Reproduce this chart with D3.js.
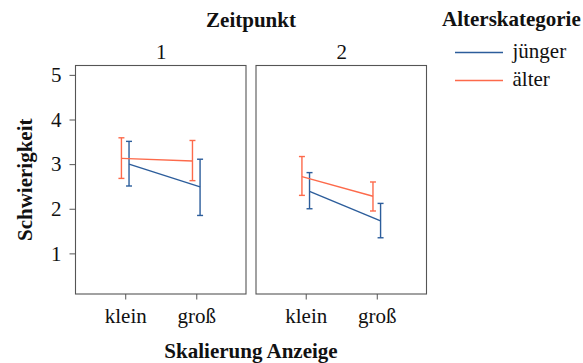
<!DOCTYPE html>
<html>
<head>
<meta charset="utf-8">
<script src="https://cdn.jsdelivr.net/npm/d3@7"></script>
<style>
  html, body { margin: 0; padding: 0; background: #fff; }
  svg { display: block; }
  svg text { font-family: "Liberation Serif", "Times New Roman", serif !important; }
</style>
</head>
<body>
<svg id="chart" width="583" height="363"></svg>
<script>
// Facets (Zeitpunkt), x categories (Skalierung Anzeige), groups (Alterskategorie)
const zeitpunkte = ["1", "2"];
const skalierung = ["klein", "groß"];
const gruppen = ["jünger", "älter"];
const yTicks = [1, 2, 3, 4, 5];

// Mean difficulty per group, indexed [zeitpunkt][skalierung]
const juengerMean  = [[3.00, 2.49], [2.39, 1.73]];
const juengerLower = [[2.51, 1.85], [2.00, 1.35]];
const juengerUpper = [[3.51, 3.11], [2.81, 2.12]];

const aelterMean  = [[3.13, 3.07], [2.72, 2.28]];
const aelterLower = [[2.68, 2.63], [2.30, 1.95]];
const aelterUpper = [[3.59, 3.53], [3.17, 2.60]];

const colors = { "jünger": "#2c5d9b", "älter": "#fd6a4b" };
const dodge = { "jünger": 3.8, "älter": -3.8 };

const series = [
  { name: "jünger", mean: juengerMean, lo: juengerLower, hi: juengerUpper },
  { name: "älter",  mean: aelterMean,  lo: aelterLower,  hi: aelterUpper }
];

const svg = d3.select("#chart");

const panelTop = 65.5, panelBottom = 294;
const panelLefts = [75.5, 256];
const panelW = 170.5;
const centerX = (panelLefts[0] + panelLefts[1] + panelW) / 2;

const y = d3.scaleLinear().domain([0.09, 5.21]).range([panelBottom, panelTop]);
const x = d3.scalePoint().domain(skalierung).range([0, panelW]).padding(0.7);

zeitpunkte.forEach((zp, fi) => {
  const g = svg.append("g").attr("transform", `translate(${panelLefts[fi]},0)`);

  // panel frame
  g.append("rect")
    .attr("x", 0).attr("y", panelTop)
    .attr("width", panelW).attr("height", panelBottom - panelTop)
    .attr("fill", "none").attr("stroke", "#555").attr("stroke-width", 1.1);

  // strip label
  g.append("text")
    .attr("x", panelW / 2 + 0.5).attr("y", 58.5)
    .attr("text-anchor", "middle")
    .style("font-size", "21px").attr("fill", "#111")
    .text(zp);

  // x axis
  const xa = g.append("g").attr("transform", `translate(0,${panelBottom})`)
    .call(d3.axisBottom(x).tickSize(5.5).tickPadding(8.5));
  xa.select(".domain").remove();
  xa.selectAll("line").attr("stroke", "#555");
  xa.selectAll("text").style("font-size", "21px").attr("fill", "#111");

  // y axis on first panel only
  if (fi === 0) {
    const ya = g.append("g")
      .call(d3.axisLeft(y).tickValues(yTicks).tickFormat(d3.format("d")).tickSize(6).tickPadding(8));
    ya.select(".domain").remove();
    ya.selectAll("line").attr("stroke", "#555");
    ya.selectAll("text").style("font-size", "21px").attr("fill", "#111");
  }

  series.forEach(s => {
    const col = colors[s.name];
    const pts = skalierung.map((k, ki) => ({
      x: x(k) + dodge[s.name],
      m: s.mean[fi][ki], lo: s.lo[fi][ki], hi: s.hi[fi][ki]
    }));

    // connecting line of means
    g.append("path")
      .datum(pts)
      .attr("fill", "none").attr("stroke", col).attr("stroke-width", 1.4)
      .attr("d", d3.line().x(d => d.x).y(d => y(d.m)));

    // error bars
    const eb = g.selectAll(null).data(pts).enter().append("g")
      .attr("stroke", col).attr("stroke-width", 1.4);
    eb.append("line")
      .attr("x1", d => d.x).attr("x2", d => d.x)
      .attr("y1", d => y(d.lo)).attr("y2", d => y(d.hi));
    eb.append("line")
      .attr("x1", d => d.x - 3).attr("x2", d => d.x + 3)
      .attr("y1", d => y(d.lo)).attr("y2", d => y(d.lo));
    eb.append("line")
      .attr("x1", d => d.x - 3).attr("x2", d => d.x + 3)
      .attr("y1", d => y(d.hi)).attr("y2", d => y(d.hi));
  });
});

// facet title
svg.append("text")
  .attr("x", centerX).attr("y", 26.5)
  .attr("text-anchor", "middle").style("font-size", "21px").style("font-weight", "bold")
  .attr("fill", "#111").text("Zeitpunkt");

// axis titles
svg.append("text")
  .attr("x", centerX).attr("y", 358)
  .attr("text-anchor", "middle").style("font-size", "21px").style("font-weight", "bold")
  .attr("fill", "#111").text("Skalierung Anzeige");

svg.append("text")
  .attr("transform", `translate(31.5,${(panelTop + panelBottom) / 2}) rotate(-90)`)
  .attr("text-anchor", "middle").style("font-size", "21px").style("font-weight", "bold")
  .attr("fill", "#111").text("Schwierigkeit");

// legend
const lg = svg.append("g");
lg.append("text")
  .attr("x", 442).attr("y", 26)
  .style("font-size", "21px").style("font-weight", "bold").attr("fill", "#111")
  .text("Alterskategorie");
gruppen.forEach((name, i) => {
  const yy = 52.5 + i * 28;
  lg.append("line")
    .attr("x1", 455).attr("x2", 503).attr("y1", yy).attr("y2", yy)
    .attr("stroke", colors[name]).attr("stroke-width", 1.4);
  lg.append("text")
    .attr("x", 512.5).attr("y", yy + 5)
    .style("font-size", "21px").attr("fill", "#111")
    .text(name);
});
</script>
</body>
</html>
